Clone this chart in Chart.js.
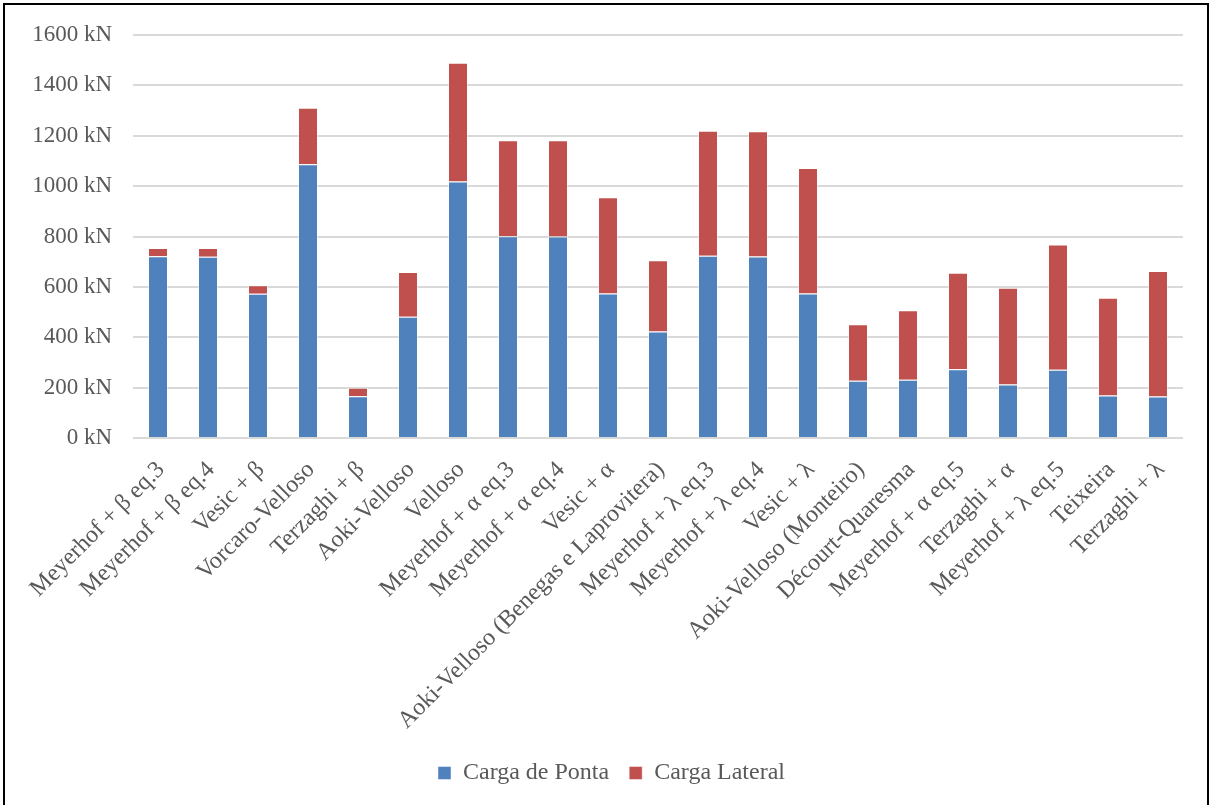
<!DOCTYPE html>
<html>
<head>
<meta charset="utf-8">
<script src="https://cdn.jsdelivr.net/npm/chart.js@4/dist/chart.umd.min.js"></script>
<style>
    html, body { margin: 0; padding: 0; background: #ffffff; overflow: hidden; }
    #wrap { position: relative; width: 1210px; height: 805px; }
    #frame {
        position: absolute; left: 3px; top: 3px; width: 1206px; height: 900px;
        box-sizing: border-box; border: 2px solid #000000; pointer-events: none;
    }
</style>
</head>
<body>
<div id="wrap">
    <canvas id="cargaChart" width="1210" height="805"></canvas>
    <div id="frame"></div>
</div>
<script>
// Data (kN)
const metodos = [
    "Meyerhof + \u03b2 eq.3", "Meyerhof + \u03b2 eq.4", "Vesic + \u03b2", "Vorcaro-Velloso",
    "Terzaghi + \u03b2", "Aoki-Velloso", "Velloso", "Meyerhof + \u03b1 eq.3",
    "Meyerhof + \u03b1 eq.4", "Vesic + \u03b1", "Aoki-Velloso (Benegas e Laprovitera)",
    "Meyerhof + \u03bb eq.3", "Meyerhof + \u03bb eq.4", "Vesic + \u03bb",
    "Aoki-Velloso (Monteiro)", "D\u00e9court-Quaresma", "Meyerhof + \u03b1 eq.5",
    "Terzaghi + \u03b1", "Meyerhof + \u03bb eq.5", "Teixeira", "Terzaghi + \u03bb"
];
const cargaPonta = [722, 720, 573, 1087, 166, 481, 1018, 801, 800, 574, 423, 724, 721, 574, 227, 231, 273, 212, 271, 169, 165];
const cargaLateral = [32, 34, 33, 224, 34, 178, 472, 381, 382, 382, 283, 496, 497, 498, 225, 276, 383, 385, 497, 388, 498];
const yTicks = [0, 200, 400, 600, 800, 1000, 1200, 1400, 1600];

document.addEventListener("DOMContentLoaded", function() {
    const fontFamily = "'Liberation Serif', 'Times New Roman', serif";
    const textColor = "#595959";

    // legend in the reference sits a bit right of the canvas centre
    const legendShift = {
        id: "legendShift",
        afterLayout(chart) {
            if (chart.legend) {
                chart.legend.left += 20;
                chart.legend.right += 20;
            }
        },
    };

    const canvas = document.getElementById("cargaChart");
    new Chart(canvas, {
        type: "bar",
        data: {
            labels: metodos,
            datasets: [{
                label: "Carga de Ponta",
                data: cargaPonta,
                backgroundColor: "#4f81bd",
                borderColor: "rgba(255,255,255,0.45)",
                borderWidth: 1,
            }, {
                label: "Carga Lateral",
                data: cargaLateral,
                backgroundColor: "#c0504d",
                borderColor: "rgba(255,255,255,0.45)",
                borderWidth: 1,
            }],
        },
        options: {
            responsive: false,
            animation: false,
            devicePixelRatio: 1,
            layout: {
                padding: { top: 35, right: 27, bottom: 10, left: 0 },
            },
            datasets: {
                bar: { categoryPercentage: 1.0, barPercentage: 0.4 },
            },
            plugins: {
                tooltip: { enabled: false },
                legend: {
                    position: "bottom",
                    labels: {
                        color: textColor,
                        font: { family: fontFamily, size: 24 },
                        boxWidth: 13,
                        boxHeight: 13,
                        padding: 20,
                    },
                },
            },
            scales: {
                x: {
                    stacked: true,
                    grid: { display: false },
                    border: { display: false },
                    ticks: {
                        color: textColor,
                        font: { family: fontFamily, size: 24 },
                        minRotation: 45,
                        maxRotation: 45,
                        autoSkip: false,
                        padding: 10,
                        labelOffset: 3,
                    },
                    afterFit: function(scale) { scale.height = 303; },
                },
                y: {
                    stacked: true,
                    min: 0,
                    max: 1600,
                    afterBuildTicks: function(scale) {
                        scale.ticks = yTicks.map(v => ({ value: v }));
                    },
                    grid: { color: "#d9d9d9", lineWidth: 2, drawTicks: false },
                    border: { display: false },
                    ticks: {
                        color: textColor,
                        font: { family: fontFamily, size: 23 },
                        padding: 21,
                        callback: function(value) { return value + " kN"; },
                    },
                    afterFit: function(scale) { scale.width = 133; },
                },
            },
        },
        plugins: [legendShift],
    });
});
</script>
</body>
</html>
